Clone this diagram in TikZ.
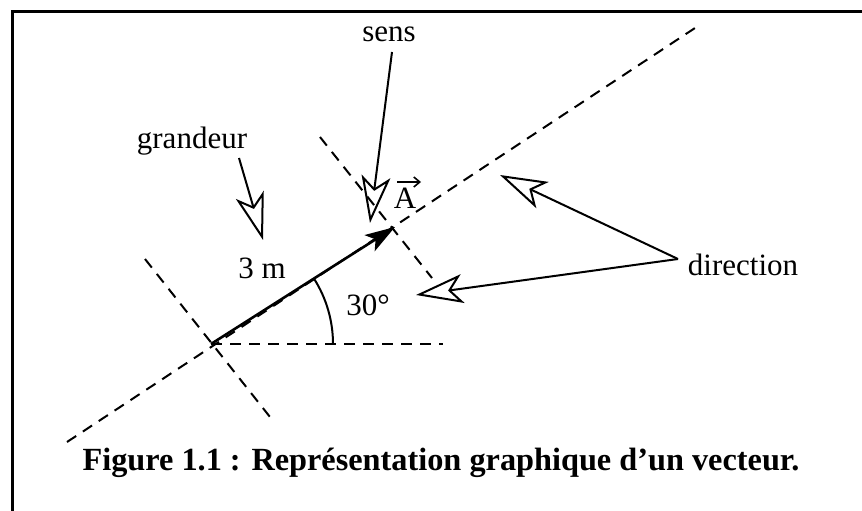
\documentclass[tikz,border=0pt]{standalone}
\usepackage{fontspec}
\setmainfont{Liberation Serif}
\usetikzlibrary{arrows.meta}
\begin{document}
\begin{tikzpicture}[x=1pt,y=-1pt,
  dline/.style={dash pattern=on 11pt off 8pt, line width=2pt},
  hollow/.style={line width=2pt, -{Stealth[open, length=47pt, width=29pt, inset=12pt]}},
  vec/.style={line width=2.6pt, -{Stealth[length=30pt, width=19pt, inset=7pt]}},
  lbl/.style={font=\fontsize{31}{37}\selectfont, inner sep=0pt, anchor=base},
  captext/.style={font=\fontsize{32.3}{38}\selectfont\bfseries, inner sep=0pt, anchor=base}]
\useasboundingbox (0,0) rectangle (862,511);
% frame
\draw[line width=3pt] (12,520) -- (12,12) -- (870,12);
% key points
\coordinate (O) at (211,344);
\coordinate (T) at (395,227);
\coordinate (L1) at (67,442);
\coordinate (L2) at (695,28);
\coordinate (P1) at (145,259);
\coordinate (P2) at (270,417);
\coordinate (Q1) at (320,137);
\coordinate (Q2) at (432,278);
\coordinate (H) at (443,344);
% dashed construction lines
\draw[dline] (L1) -- (L2);
\draw[dline] (P1) -- (P2);
\draw[dline] (Q1) -- (Q2);
\draw[dline] (O) -- (H);
% angle arc
\draw[line width=2pt] (O) ++(122,0) arc[start angle=0, end angle=-32.4, radius=122];
% vector
\draw[vec] (O) -- (T);
% labels
\node[lbl] (sens) at (389,42) {sens};
\node[lbl] (grandeur) at (192,148) {grandeur};
\node[lbl] (trois) at (262,278) {3 m};
\node[lbl] (angle) at (368,315) {30°};
\node[lbl] (direction) at (743,275) {direction};
\node[lbl] (A) at (405,208) {A};
\coordinate (a1) at (397,182);
\coordinate (a2) at (421,182);
\draw[line width=1.6pt, -{Straight Barb[length=6pt, width=10pt]}] (a1) -- (a2);
\node[captext] (caption) at (441,470) {Figure 1.1 : Représentation graphique d’un vecteur.};
% hollow pointer arrows
\coordinate (g1) at (239,158);
\coordinate (g2) at (263,240);
\coordinate (s1) at (392,52);
\coordinate (s2) at (370,223);
\coordinate (d0) at (678,259);
\coordinate (d1) at (500,175);
\coordinate (d2) at (416,295);
\draw[hollow] (g1) -- (g2);
\draw[hollow] (s1) -- (s2);
\draw[hollow] (d0) -- (d1);
\draw[hollow] (d0) -- (d2);
\end{tikzpicture}
\end{document}
